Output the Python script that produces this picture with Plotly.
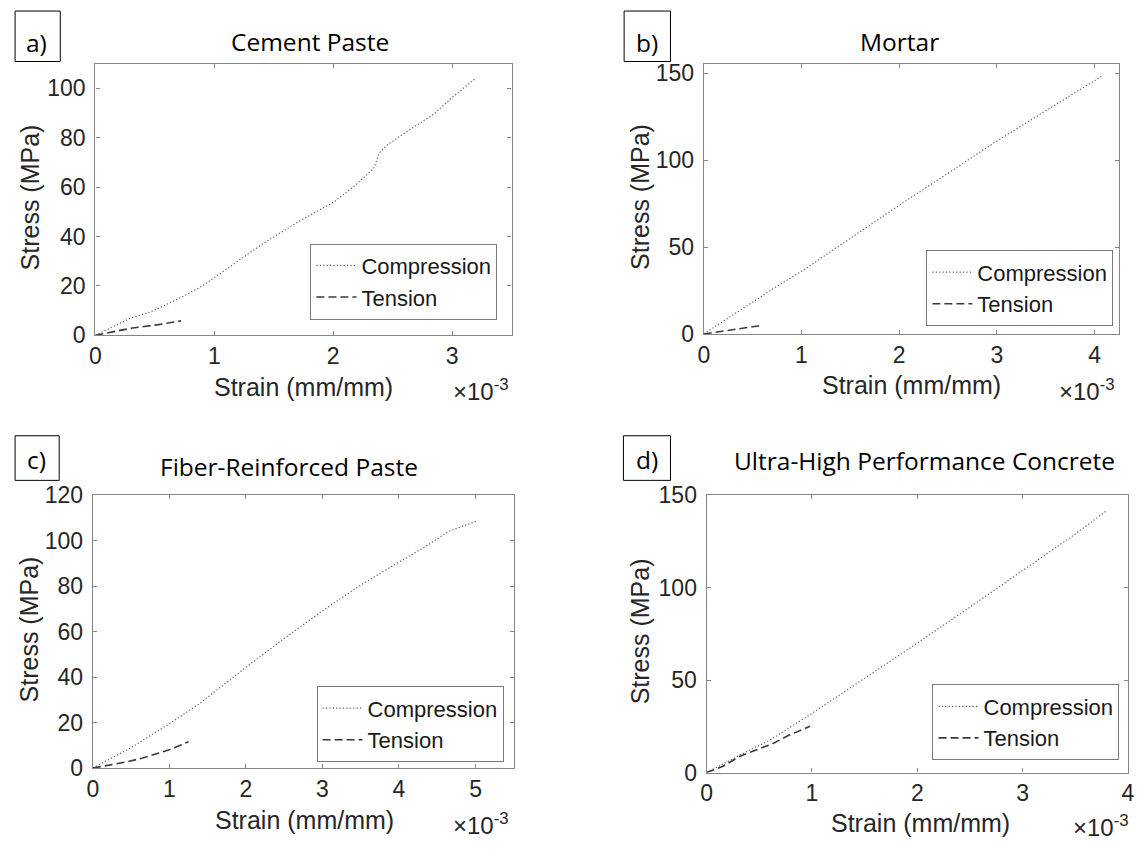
import plotly.graph_objects as go

W, H = 1148, 856

# Strain values are in units of 1e-3 mm/mm, stress in MPa.
# a) Cement paste
paste_comp_strain = [0, 0.15, 0.3, 0.47, 0.6, 0.75, 0.9, 1.0, 1.2, 1.4, 1.7, 2.0, 2.17, 2.34, 2.39, 2.45, 2.65, 2.85, 3.0, 3.1, 3.2]
paste_comp_stress = [0, 3.5, 7.0, 9.5, 12.5, 16.0, 20.0, 23.3, 30.0, 36.8, 45.8, 53.8, 60.1, 67.5, 74.0, 77.0, 83.5, 89.7, 96.3, 100.3, 104.2]
paste_tens_strain = [0, 0.15, 0.31, 0.53, 0.72]
paste_tens_stress = [0, 1.3, 2.9, 4.3, 5.8]

# b) Mortar
mortar_comp_strain = [0, 0.75, 1.0, 2.0, 3.0, 4.08]
mortar_comp_stress = [0, 27.5, 36.0, 74.0, 111.0, 148.5]
mortar_tens_strain = [0, 0.3, 0.58]
mortar_tens_stress = [0, 2.4, 4.8]

# c) Fiber-reinforced paste
frp_comp_strain = [0, 0.5, 1.0, 1.4, 2.0, 2.5, 3.0, 3.5, 4.0, 4.35, 4.65, 5.03]
frp_comp_stress = [0, 9.0, 19.5, 28.5, 44.3, 57.0, 69.2, 80.5, 90.6, 97.5, 104.1, 108.8]
frp_tens_strain = [0, 0.2, 0.45, 0.65, 1.0, 1.25]
frp_tens_stress = [0, 1.2, 2.8, 4.4, 8.0, 11.6]

# d) Ultra-high performance concrete
uhpc_comp_strain = [0, 0.3, 0.6, 1.0, 1.5, 2.0, 2.5, 3.0, 3.5, 3.8]
uhpc_comp_stress = [0, 9.0, 17.5, 32.0, 51.0, 70.0, 89.5, 109.4, 129.0, 141.7]
uhpc_tens_strain = [0, 0.16, 0.31, 0.47, 0.63, 0.78, 0.98]
uhpc_tens_stress = [0, 3.5, 8.7, 12.2, 15.7, 20.1, 25.0]

panel_titles = ["Cement Paste", "Mortar", "Fiber-Reinforced Paste", "Ultra-High Performance Concrete"]
panel_tags = ["a)", "b)", "c)", "d)"]
x_tick_sets = [[0, 1, 2, 3], [0, 1, 2, 3, 4], [0, 1, 2, 3, 4, 5], [0, 1, 2, 3, 4]]
y_tick_sets = [[0, 20, 40, 60, 80, 100], [0, 50, 100, 150], [0, 20, 40, 60, 80, 100, 120], [0, 50, 100, 150]]
x_ranges = [[0, 3.5], [0, 4.25], [0, 5.5], [0, 4]]
y_ranges = [[0, 110], [0, 155.5], [0, 120], [0, 150]]

series = [
    (paste_comp_strain, paste_comp_stress, paste_tens_strain, paste_tens_stress),
    (mortar_comp_strain, mortar_comp_stress, mortar_tens_strain, mortar_tens_stress),
    (frp_comp_strain, frp_comp_stress, frp_tens_strain, frp_tens_stress),
    (uhpc_comp_strain, uhpc_comp_stress, uhpc_tens_strain, uhpc_tens_stress),
]

# pixel layout of each panel
layout_px = [
    dict(ax=(90.4, 511.4, 52.3, 332.3), leg=(307.9, 277), title=(307, 29), tag=(9.2, 54.9, -2, 50), tagtxt=(31, 30),
         ylab=(24.5, 190), xlab=(301, 386), mult=(511, 389)),
    dict(ax=(705.8, 1125.7, 52.3, 331.0), leg=(930.9, 284), title=(903.5, 29), tag=(625.2, 672.1, -2, 50), tagtxt=(648, 30),
         ylab=(641.0, 190), xlab=(916.3, 384), mult=(1124, 389)),
    dict(ax=(87.9, 513.6, 497.3, 778.7), leg=(314.1, 733.7), title=(286.6, 468), tag=(9.2, 53.8, 436, 482), tagtxt=(31, 460),
         ylab=(23.0, 636), xlab=(302, 832), mult=(511, 836)),
    dict(ax=(708.7, 1134.8, 497.3, 783.3), leg=(937.1, 731.7), title=(929, 462), tag=(624.5, 672.1, 436, 482), tagtxt=(648, 460),
         ylab=(641.0, 638), xlab=(925.4, 835), mult=(1138, 838)),
]


def fx(p):
    return p / W


def fy(p):
    return 1 - p / H


SANS = "Liberation Sans, Arial, sans-serif"
TICK_FONT = dict(family=SANS, size=23, color="#262626")
LABEL_FONT = dict(family=SANS, size=25, color="#262626")
TITLE_FONT = dict(family="Open Sans, Noto Sans, sans-serif", size=24.5, color="#000000")
LINE_GRAY = "#868686"

fig = go.Figure()
layout = dict(
    width=W, height=H, margin=dict(l=0, r=0, t=0, b=0),
    paper_bgcolor="white", plot_bgcolor="white", showlegend=True,
    annotations=[], shapes=[],
)

for i in range(4):
    n = "" if i == 0 else str(i + 1)
    xa, ya = "x" + n, "y" + n
    lg = "legend" + n
    L = layout_px[i]
    x0, x1, y0, y1 = L["ax"]
    cs, cv, ts, tv = series[i]

    fig.add_trace(go.Scatter(
        x=cs, y=cv, mode="lines", name="Compression", xaxis=xa, yaxis=ya, legend=lg,
        line=dict(color="#5c5c5c", width=1.2, dash="1.2px,2.2px"),
    ))
    fig.add_trace(go.Scatter(
        x=ts, y=tv, mode="lines", name="Tension", xaxis=xa, yaxis=ya, legend=lg,
        line=dict(color="#3a3a3a", width=1.6, dash="8px,4px"),
    ))

    common = dict(
        showline=True, linecolor=LINE_GRAY, linewidth=1.3, mirror="ticks",
        ticks="inside", ticklen=4, tickwidth=1, tickcolor=LINE_GRAY,
        showgrid=False, zeroline=False, tickfont=TICK_FONT, fixedrange=True,
    )
    layout["xaxis" + n] = dict(
        common, domain=[fx(x0), fx(x1)], range=x_ranges[i],
        tickvals=x_tick_sets[i], anchor=ya,
    )
    layout["yaxis" + n] = dict(
        common, domain=[fy(y1), fy(y0)], range=y_ranges[i],
        tickvals=y_tick_sets[i], anchor=xa, ticklabelstandoff=4,
    )
    layout[lg] = dict(
        x=fx(L["leg"][0]), y=fy(L["leg"][1]), xanchor="left", yanchor="middle",
        xref="paper", yref="paper",
        bgcolor="white", bordercolor="#7a7a7a", borderwidth=1,
        font=dict(family=SANS, size=22, color="#1a1a1a"),
        itemwidth=40, tracegroupgap=0, traceorder="normal",
    )

    ann = layout["annotations"]
    ann.append(dict(text=panel_titles[i], x=fx(L["title"][0]), y=fy(L["title"][1]),
                    xref="paper", yref="paper", showarrow=False, xanchor="center", yanchor="middle",
                    font=TITLE_FONT))
    ann.append(dict(text=panel_tags[i], x=fx(L["tagtxt"][0]), y=fy(L["tagtxt"][1]),
                    xref="paper", yref="paper", showarrow=False, xanchor="center", yanchor="middle",
                    font=TITLE_FONT))
    ann.append(dict(text="Stress (MPa)", x=fx(L["ylab"][0]), y=fy(L["ylab"][1]), textangle=-90,
                    xref="paper", yref="paper", showarrow=False, xanchor="center", yanchor="middle",
                    font=LABEL_FONT))
    ann.append(dict(text="Strain (mm/mm)", x=fx(L["xlab"][0]), y=fy(L["xlab"][1]),
                    xref="paper", yref="paper", showarrow=False, xanchor="center", yanchor="middle",
                    font=LABEL_FONT))
    ann.append(dict(text="\u00d710<sup>-3</sup>", x=fx(L["mult"][0]), y=fy(L["mult"][1]),
                    xref="paper", yref="paper", showarrow=False, xanchor="right", yanchor="middle",
                    font=dict(TICK_FONT, size=24)))

    tx0, tx1, ty0, ty1 = L["tag"]
    layout["shapes"].append(dict(
        type="rect", xref="paper", yref="paper",
        x0=fx(tx0), x1=fx(tx1), y0=fy(ty1), y1=fy(ty0),
        line=dict(color="#000000", width=1), fillcolor="rgba(0,0,0,0)",
    ))

fig.update_layout(**layout)
fig.write_html("out.html")
